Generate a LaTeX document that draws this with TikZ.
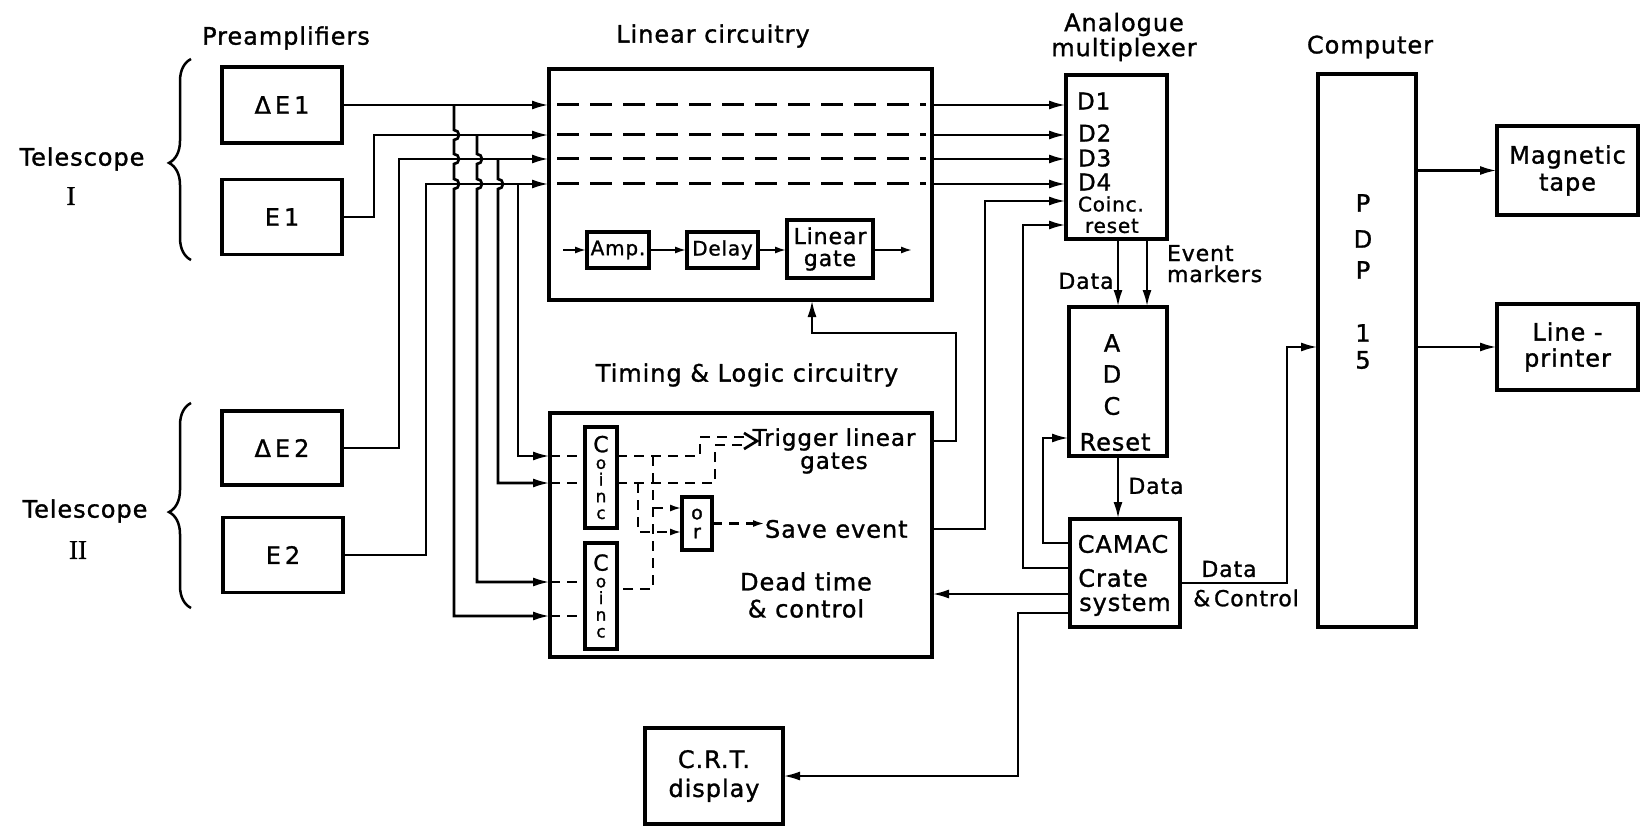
\documentclass[tikz,border=0pt]{standalone}
\usepackage{fontspec}
\setmainfont{DejaVu Sans}[LetterSpace=4, FakeBold=1.2]
\newfontfamily\romfont{Liberation Serif}[FakeBold=1.2]
\usetikzlibrary{arrows.meta,decorations.pathreplacing,calc}
\begin{document}
\begin{tikzpicture}[x=1pt,y=-1pt,
  every node/.style={inner sep=0pt, outer sep=0pt},
  lab/.style={font=\fontsize{24}{27}\selectfont, align=center},
  box/.style={draw, line width=3.1pt, rectangle, align=center, font=\fontsize{24}{27}\selectfont},
  wire/.style={line width=2.7pt},
  arr/.style={wire, -{Latex[length=17pt,width=9pt]}},
  sarr/.style={wire, -{Latex[length=12pt,width=7pt]}},
  ldash/.style={line width=3pt, dash pattern=on 22pt off 11pt},
  tdash/.style={line width=2.6pt, dash pattern=on 10pt off 7pt},
  tarr/.style={tdash, -{Latex[length=12pt,width=7pt]}},
  curly/.style={line width=2.5pt, decorate, decoration={brace, amplitude=22pt, aspect=#1}},
  roman/.style={font=\romfont\fontsize{27}{28}\selectfont},
  coinctxt/.style={font=\fontsize{17}{16.7}\selectfont}
]
\fill[white] (0,0) rectangle (1643,826);
\useasboundingbox (0,0) rectangle (1643,826);

% ---------- boxes ----------
\node[box, minimum width=120pt, minimum height=76pt] (dE1) at (282,105) {Δ\,E\,1};
\node[box, minimum width=120pt, minimum height=75pt] (E1) at (282,217) {E\,1};
\node[box, minimum width=120pt, minimum height=74pt] (dE2) at (282,448) {Δ\,E\,2};
\node[box, minimum width=120pt, minimum height=75pt] (E2) at (283,555) {E\,2};

\node[box, minimum width=383pt, minimum height=231pt] (lin) at (740.5,184.5) {};
\node[box, minimum width=382pt, minimum height=244pt] (tim) at (741,535) {};

\node[box, font=\fontsize{20}{22}\selectfont, minimum width=62pt, minimum height=36pt] (amp) at (618,250) {Amp.};
\node[box, font=\fontsize{20}{22}\selectfont, minimum width=71pt, minimum height=36pt] (delay) at (722.5,250) {Delay};
\node[box, font=\fontsize{22}{22}\selectfont, minimum width=86pt, minimum height=58pt] (lgate) at (830,249) {Linear\\gate};

\node[box, coinctxt, minimum width=32pt, minimum height=101pt] (c1) at (601,477.5) {{\fontsize{22}{16.7}\selectfont C}\\o\\i\\n\\c};
\node[box, coinctxt, minimum width=32pt, minimum height=106pt] (c2) at (601,596) {{\fontsize{22}{16.7}\selectfont C}\\o\\i\\n\\c};
\node[box, font=\fontsize{19}{19}\selectfont, minimum width=30pt, minimum height=53pt] (orb) at (697,523.5) {o\\r};

\node[box, minimum width=101pt, minimum height=164pt] (mux) at (1116.5,157) {};
\node[box, minimum width=98pt, minimum height=149pt] (adc) at (1118,381.5) {};
\node[box, minimum width=110pt, minimum height=108pt] (camac) at (1125,573) {};
\node[box, minimum width=98pt, minimum height=553pt] (pdp) at (1367,350.5) {};
\node[box, minimum width=141pt, minimum height=89pt] (mag) at (1567.5,170.5) {Magnetic\\tape};
\node[box, font=\fontsize{24}{26}\selectfont, minimum width=141pt, minimum height=86pt] (lp) at (1567.5,347) {Line -\\printer};
\node[box, font=\fontsize{24}{29}\selectfont, minimum width=138pt, minimum height=96pt] (crt) at (714,776) {C.R.T.\\display};

% ---------- titles and labels ----------
\node[lab] (tPre) at (286,38) {Preamplifiers};
\node[lab] (tTel1) at (82,159) {Telescope};
\node[roman] (tI) at (71,196) {I};
\node[lab] (tTel2) at (85,511) {Telescope};
\node[roman] (tII) at (78,550) {II};
\node[lab] (tLin) at (713,36) {Linear circuitry};
\node[lab] (tTim) at (747,375) {Timing \& Logic circuitry};
\node[lab, font=\fontsize{24}{25}\selectfont] (tMux) at (1124,37) {Analogue\\multiplexer};
\node[lab] (tComp) at (1370,47) {Computer};

\node[lab, anchor=west, font=\fontsize{23}{24}\selectfont] (mD1) at (1077,101) {D1};
\node[lab, anchor=west, font=\fontsize{23}{24}\selectfont] (mD2) at (1078,133) {D2};
\node[lab, anchor=west, font=\fontsize{23}{24}\selectfont] (mD3) at (1078,158) {D3};
\node[lab, anchor=west, font=\fontsize{23}{24}\selectfont] (mD4) at (1078,182) {D4};
\node[lab, anchor=west, font=\fontsize{20}{22}\selectfont] (mCo) at (1078,204) {Coinc.};
\node[lab, anchor=west, font=\fontsize{20}{22}\selectfont] (mRe) at (1085,226) {reset};

\node[lab] (aA) at (1112,343) {A};
\node[lab] (aD) at (1112,374) {D};
\node[lab] (aC) at (1112,406) {C};
\node[lab] (aR) at (1115,442) {Reset};

\node[lab] (cCA) at (1123,544) {CAMAC};
\node[lab] (cCr) at (1113,578) {Crate};
\node[lab] (cSy) at (1125,605) {system};

\node[lab] (p1) at (1363,203) {P};
\node[lab] (p2) at (1363,239) {D};
\node[lab] (p3) at (1363,270) {P};
\node[lab] (p4) at (1363,333) {1};
\node[lab] (p5) at (1363,360) {5};

\node[lab, font=\fontsize{22}{24}\selectfont] (dl1) at (1086,281) {Data};
\node[lab, font=\fontsize{22}{21}\selectfont, anchor=north west, align=left] (evm) at (1167,245) {Event\\markers};
\node[lab, font=\fontsize{22}{24}\selectfont] (dl2) at (1156,486) {Data};
\node[lab, font=\fontsize{22}{24}\selectfont] (dl3) at (1229,569) {Data};
\node[lab, font=\fontsize{22}{24}\selectfont] (dl4) at (1246,598) {\&\,Control};

\node[lab, font=\fontsize{23}{23}\selectfont] (trig) at (834,451) {Trigger linear\\gates};
\node[lab, anchor=west] (save) at (765,529) {Save event};
\node[lab] (dead) at (806,595) {Dead time\\\& control};

% ---------- braces ----------
\coordinate (b1s) at (191,260); \coordinate (b1e) at (191,59);
\coordinate (b2s) at (191,608); \coordinate (b2e) at (191,403);
\draw[curly=0.483] (b1s) -- (b1e);
\draw[curly=0.468] (b2s) -- (b2e);

% ---------- level / column coordinates ----------
\coordinate (yA) at (0,105);
\coordinate (yB) at (0,135);
\coordinate (yC) at (0,159);
\coordinate (yD) at (0,184);
\coordinate (xE1) at (374,0);
\coordinate (xdE2) at (399,0);
\coordinate (xE2) at (426,0);
\coordinate (t1) at (454,0);
\coordinate (t2) at (477,0);
\coordinate (t3) at (498,0);
\coordinate (t4) at (518,0);
\coordinate (yi1) at (0,456);
\coordinate (yi2) at (0,483);
\coordinate (yi3) at (0,582);
\coordinate (yi4) at (0,616);

% ---------- preamp outputs ----------
\draw[arr] (dE1.east) -- (dE1.east -| lin.west);
\draw[arr] (E1.east) -| (xE1 |- yB) -- (lin.west |- yB);
\draw[arr] (dE2.east) -| (xdE2 |- yC) -- (lin.west |- yC);
\draw[arr] (E2.east) -| (xE2 |- yD) -- (lin.west |- yD);

% taps to timing with hops
\draw[arr] (t1 |- yA) -- ($(t1 |- yB)+(0,-5)$) arc[start angle=90, end angle=-90, radius=5pt]
  -- ($(t1 |- yC)+(0,-5)$) arc[start angle=90, end angle=-90, radius=5pt]
  -- ($(t1 |- yD)+(0,-5)$) arc[start angle=90, end angle=-90, radius=5pt]
  |- (tim.west |- yi4);
\draw[arr] (t2 |- yB) -- ($(t2 |- yC)+(0,-5)$) arc[start angle=90, end angle=-90, radius=5pt]
  -- ($(t2 |- yD)+(0,-5)$) arc[start angle=90, end angle=-90, radius=5pt]
  |- (tim.west |- yi3);
\draw[arr] (t3 |- yC) -- ($(t3 |- yD)+(0,-5)$) arc[start angle=90, end angle=-90, radius=5pt]
  |- (tim.west |- yi2);
\draw[arr] (t4 |- yD) |- (tim.west |- yi1);

% ---------- linear circuitry inside ----------
\foreach \yy in {yA,yB,yC,yD}{
  \draw[ldash] ($(lin.west |- \yy)+(8,0)$) -- ($(lin.east |- \yy)+(-6,0)$);
}
\coordinate (ain) at (563,250);
\coordinate (aout) at (913,250);
\draw[sarr] (ain) -- (amp.west);
\draw[sarr] (amp.east) -- (delay.west);
\draw[sarr] (delay.east) -- (delay.east -| lgate.west);
\draw[sarr] (lgate.east |- aout) -- (aout);

% ---------- linear -> multiplexer ----------
\foreach \yy in {yA,yB,yC,yD}{
  \draw[arr] (lin.east |- \yy) -- (mux.west |- \yy);
}

% ---------- timing inside ----------
\draw[tdash] (tim.west |- yi1) -- (c1.west |- yi1);
\draw[tdash] (tim.west |- yi2) -- (c1.west |- yi2);
\draw[tdash] (tim.west |- yi3) -- (c2.west |- yi3);
\draw[tdash] (tim.west |- yi4) -- (c2.west |- yi4);

\coordinate (xa) at (653,0);
\coordinate (xb) at (638,0);
\coordinate (xc) at (700,0);
\coordinate (xd) at (715,0);
\coordinate (yTa) at (0,437);
\coordinate (yTb) at (0,445);
\coordinate (yo2) at (0,589);
\coordinate (yor1) at (0,508);
\coordinate (yor2) at (0,532);
\coordinate (chA) at (745,437);
\coordinate (chB) at (745,445);
\coordinate (chT) at (744,433);
\coordinate (chP) at (757,441);
\coordinate (chU) at (744,449);

\draw[tdash] (c1.east |- yi1) -| (xc |- yTa) -- (chA);
\draw[tdash] (c1.east |- yi2) -| (xd |- yTb) -- (chB);
\draw[wire] (chT) -- (chP) -- (chU);
\draw[tdash] (xa |- yi1) -- (xa |- yo2) -- (c2.east |- yo2);
\draw[tarr] (xa |- yor1) -- (orb.west |- yor1);
\draw[tarr] (xb |- yi2) |- (orb.west |- yor2);
\draw[tarr] (orb.east) -- (orb.east -| save.west);

% ---------- timing outputs / control ----------
\coordinate (yTr) at (0,441);
\coordinate (xT) at (956,0);
\coordinate (yTu) at (0,333);
\coordinate (xU) at (812,0);
\draw[arr] (tim.east |- yTr) -| (xT |- yTu) -- (xU |- yTu) -- (xU |- lin.south);

\coordinate (ySv) at (0,529);
\coordinate (xS) at (985,0);
\coordinate (yCo) at (0,201);
\draw[arr] (tim.east |- ySv) -| (xS |- yCo) -- (mux.west |- yCo);

\coordinate (yR2) at (0,568);
\coordinate (xR) at (1023,0);
\coordinate (yRe) at (0,225);
\draw[arr] (camac.west |- yR2) -| (xR |- yRe) -- (mux.west |- yRe);

\coordinate (yR1) at (0,543);
\coordinate (xA) at (1043,0);
\coordinate (yAr) at (0,438);
\draw[arr] (camac.west |- yR1) -| (xA |- yAr) -- (adc.west |- yAr);

\coordinate (yCt) at (0,594);
\draw[arr] (camac.west |- yCt) -- (tim.east |- yCt);

\coordinate (yCr) at (0,613);
\coordinate (xC) at (1018,0);
\draw[arr] (camac.west |- yCr) -| (xC |- crt.east) -- (crt.east);

\coordinate (xD1) at (1118,0);
\coordinate (xEv) at (1147,0);
\draw[arr] (xD1 |- mux.south) -- (xD1 |- adc.north);
\draw[arr] (xEv |- mux.south) -- (xEv |- adc.north);
\draw[arr] (xD1 |- adc.south) -- (xD1 |- camac.north);

\coordinate (yDc) at (0,583);
\coordinate (xP) at (1287,0);
\coordinate (yPi) at (0,347);
\draw[arr] (camac.east |- yDc) -| (xP |- yPi) -- (pdp.west |- yPi);

\draw[arr] (pdp.east |- mag.west) -- (mag.west);
\draw[arr] (pdp.east |- lp.west) -- (lp.west);
\end{tikzpicture}
\end{document}
